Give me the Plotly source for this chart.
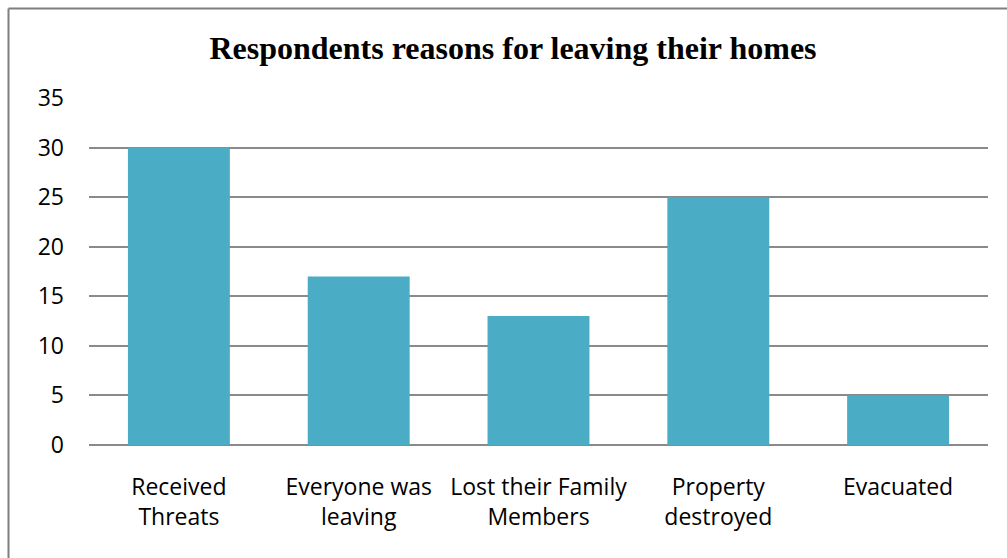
import plotly.graph_objects as go

categories = ["Received<br>Threats", "Everyone was<br>leaving", "Lost their Family<br>Members",
              "Property<br>destroyed", "Evacuated"]
values = [30, 17, 13, 25, 5]
y_ticks = [0, 5, 10, 15, 20, 25, 30, 35]
title_text = "Respondents reasons for leaving their homes"

W, H = 1007, 558
L, R, T, B = 89, 19, 98, 113
pw, ph = W - L - R, H - T - B

fig = go.Figure(go.Bar(x=categories, y=values, marker=dict(color="#4BACC6", line=dict(width=0))))

def px2x(px):
    return (px - L) / pw

def py2y(py):
    return (H - B - py) / ph

grid_col = "#8a8a8a"
tick_font = dict(family="Open Sans", size=23, color="black")
fig.update_layout(
    width=W, height=H,
    margin=dict(l=L, r=R, t=T, b=B),
    paper_bgcolor="white", plot_bgcolor="white",
    bargap=0.433,
    showlegend=False,
    title=dict(text="<b>" + title_text + "</b>", x=513 / W, xref="container", xanchor="center",
               y=1 - 48 / H, yanchor="middle",
               font=dict(family="Liberation Serif", size=32, color="black")),
    font=tick_font,
    xaxis=dict(showgrid=False, showline=False, ticks="", zeroline=False,
               ticklabelstandoff=26, tickfont=tick_font),
    yaxis=dict(range=[0, 35], tickvals=y_ticks, showgrid=True, gridcolor=grid_col, gridwidth=1.5,
               zeroline=True, zerolinecolor=grid_col, zerolinewidth=1.5, showline=False,
               ticks="", ticklabelstandoff=24, tickfont=tick_font),
    shapes=[
        dict(type="line", xref="paper", yref="paper", x0=px2x(8.5), x1=px2x(1010), y0=py2y(8.5), y1=py2y(8.5),
             line=dict(color="#7f7f7f", width=2)),
        dict(type="line", xref="paper", yref="paper", x0=px2x(8.5), x1=px2x(8.5), y0=py2y(8.5), y1=py2y(570),
             line=dict(color="#7f7f7f", width=2)),
    ],
)

fig.write_html("out.html")
